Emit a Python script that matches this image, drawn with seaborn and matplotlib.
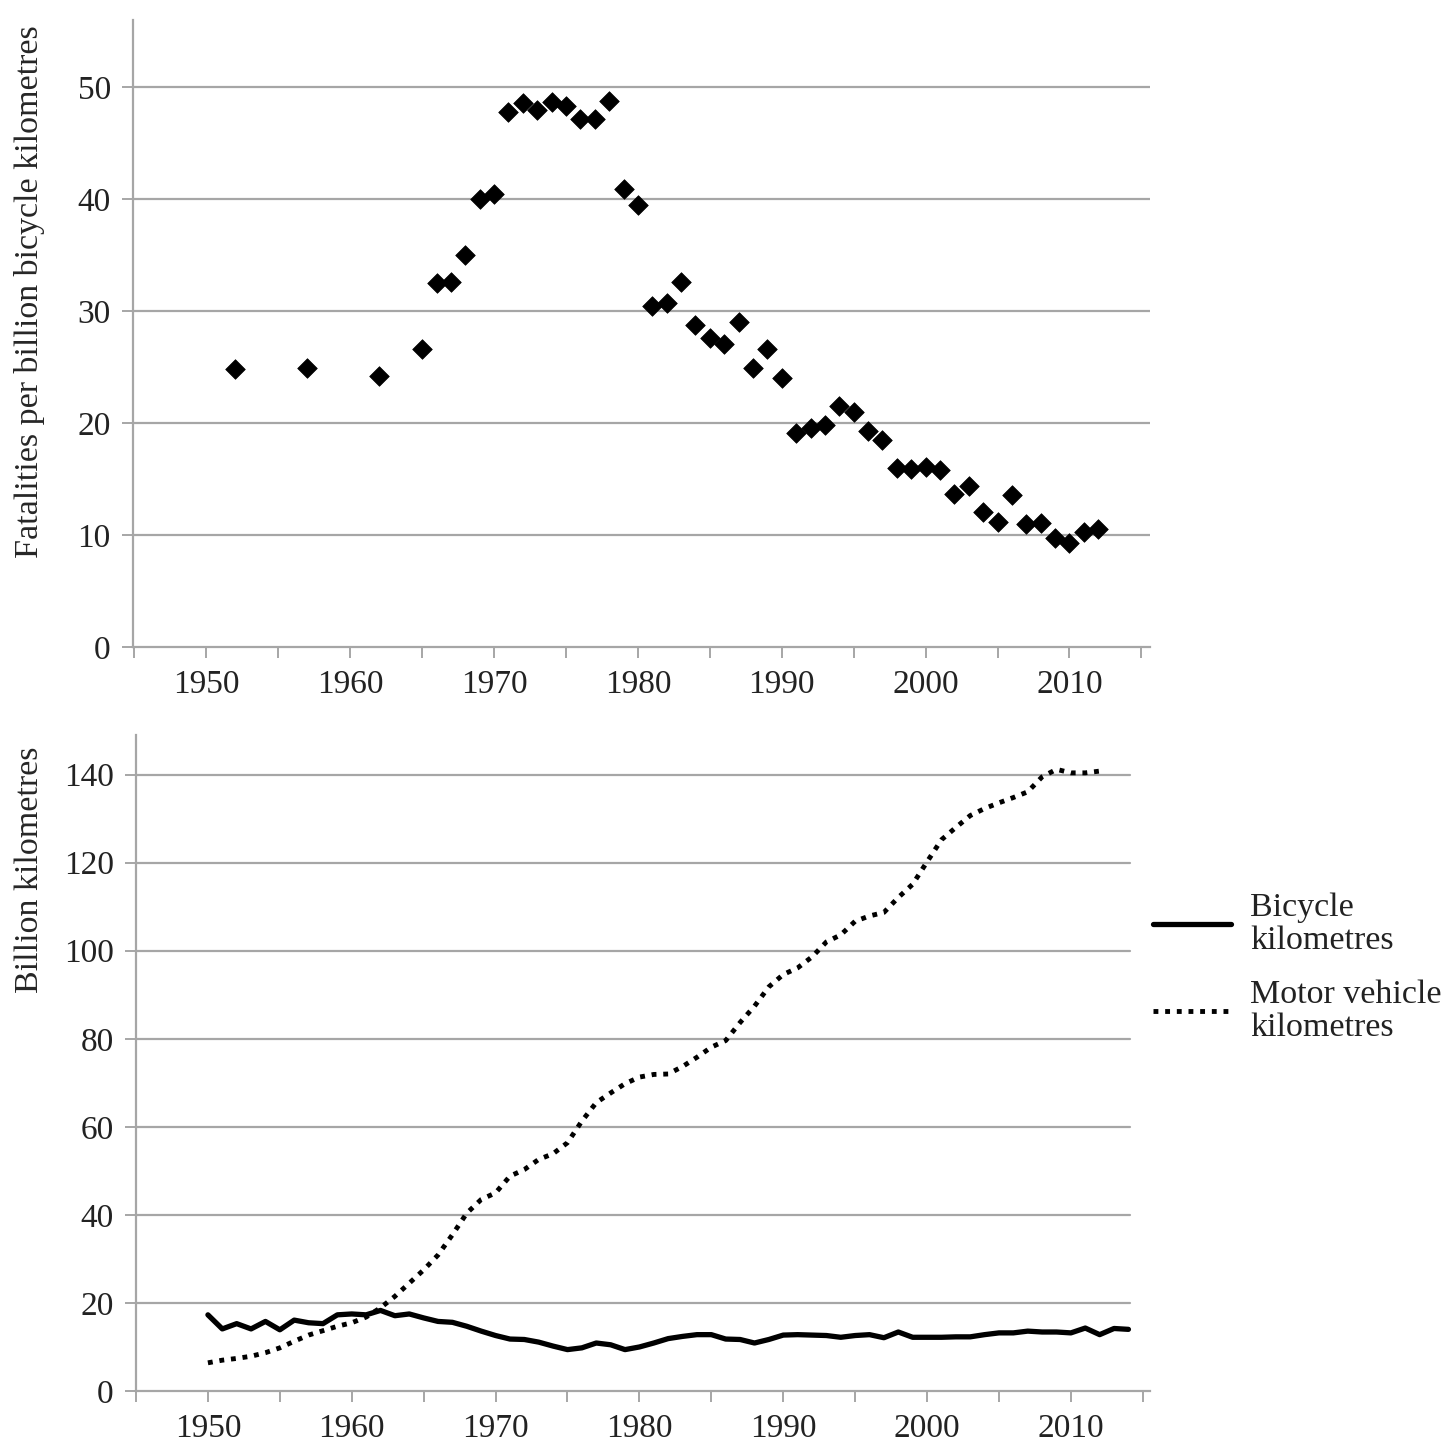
import matplotlib
matplotlib.use("Agg")
import matplotlib.pyplot as plt
import seaborn as sns
import pandas as pd

# fatalities per billion bicycle km (top panel)
fat_years = [1952, 1957, 1962, 1965, 1966, 1967, 1968, 1969,
             1970, 1971, 1972, 1973, 1974, 1975, 1976, 1977, 1978, 1979,
             1980, 1981, 1982, 1983, 1984, 1985, 1986, 1987, 1988, 1989,
             1990, 1991, 1992, 1993, 1994, 1995, 1996, 1997, 1998, 1999,
             2000, 2001, 2002, 2003, 2004, 2005, 2006, 2007, 2008, 2009,
             2010, 2011, 2012]
fat_values = [24.8, 24.9, 24.2, 26.6, 32.5, 32.6, 35.0, 40.0,
              40.5, 47.8, 48.6, 48.0, 48.7, 48.3, 47.2, 47.2, 48.8, 40.9,
              39.5, 30.5, 30.7, 32.6, 28.8, 27.6, 27.1, 29.0, 24.9, 26.6,
              24.0, 19.1, 19.6, 19.8, 21.5, 21.0, 19.3, 18.5, 16.0, 15.9,
              16.1, 15.8, 13.7, 14.4, 12.1, 11.2, 13.6, 11.0, 11.1, 9.7,
              9.3, 10.3, 10.5]

# billion km travelled (bottom panel)
bike_years = list(range(1950, 2015))
bike_km = [17.3, 14.1, 15.3, 14.1, 15.8, 13.9, 16.1, 15.5, 15.3, 17.3,
           17.5, 17.3, 18.3, 17.1, 17.5, 16.6, 15.8, 15.6, 14.7, 13.6,
           12.6, 11.8, 11.7, 11.1, 10.2, 9.4, 9.8, 10.9, 10.5, 9.4,
           10.0, 10.9, 11.9, 12.4, 12.8, 12.8, 11.8, 11.7, 10.9, 11.7,
           12.7, 12.8, 12.7, 12.6, 12.2, 12.6, 12.8, 12.1, 13.4, 12.2,
           12.2, 12.2, 12.3, 12.3, 12.8, 13.2, 13.2, 13.6, 13.4, 13.4,
           13.2, 14.3, 12.8, 14.2, 14.0]

motor_years = list(range(1950, 2013))
motor_km = [6.4, 7.0, 7.4, 7.9, 8.7, 9.8, 11.3, 12.7, 13.7, 14.7,
            15.5, 16.8, 18.9, 21.5, 24.5, 27.5, 30.9, 35.5, 40.4, 43.5,
            45.0, 48.8, 50.3, 52.6, 53.9, 56.4, 61.3, 65.5, 67.7, 69.8,
            71.3, 71.9, 72.0, 73.7, 75.8, 78.1, 79.6, 83.7, 87.4, 91.8,
            94.6, 96.1, 98.6, 102.0, 103.6, 106.7, 107.9, 108.7, 112.1, 115.1,
            120.2, 125.2, 128.0, 130.7, 132.3, 133.6, 134.8, 136.1, 139.5, 141.2,
            140.4, 140.4, 140.8]

x_ticks = [1950, 1960, 1970, 1980, 1990, 2000, 2010]
fat_yticks = [0, 10, 20, 30, 40, 50]
km_yticks = [0, 20, 40, 60, 80, 100, 120, 140]

sns.set_style("white")
plt.rcParams["font.family"] = ["Liberation Serif", "DejaVu Serif"]
plt.rcParams["text.color"] = "#222222"

GRID = "#a6a6a6"
W, H = 1453, 1447

fig = plt.figure(figsize=(W / 100, H / 100), dpi=100)
ax1 = fig.add_axes([133 / W, 1 - 647 / H, (1150 - 133) / W, (647 - 20) / H])
ax2 = fig.add_axes([136 / W, 1 - 1391 / H, (1150 - 136) / W, (1391 - 735) / H])


def style_axis(ax, yticks):
    for side in ["top", "right"]:
        ax.spines[side].set_visible(False)
    for side in ["left", "bottom"]:
        ax.spines[side].set_color(GRID)
        ax.spines[side].set_linewidth(1.6)
    ax.set_xticks(range(1945, 2016, 5))
    ax.set_xticklabels([str(y) if y in x_ticks else "" for y in range(1945, 2016, 5)])
    ax.set_yticks(yticks)
    ax.tick_params(axis="both", direction="out", length=8, width=1.4,
                   color=GRID, labelsize=24, labelcolor="#222222",
                   bottom=True, left=True)
    ax.tick_params(axis="x", pad=8)
    ax.tick_params(axis="y", pad=8)


# top panel
fat_df = pd.DataFrame({"year": fat_years, "rate": fat_values})
sns.scatterplot(data=fat_df, x="year", y="rate", ax=ax1, marker="D",
                s=100, color="black", edgecolor="black", linewidth=0.5, zorder=3)
ax1.set_xlim(1944.9, 2015.6)
ax1.set_ylim(0, 56)
style_axis(ax1, fat_yticks)
for y in fat_yticks[1:]:
    ax1.axhline(y, color=GRID, lw=1.6, zorder=1)
ax1.set_xlabel("")
ax1.set_ylabel("Fatalities per billion bicycle kilometres", fontsize=24.5)
ax1.yaxis.set_label_coords(-0.087, 0.566)

# bottom panel
bike_df = pd.DataFrame({"year": bike_years, "km": bike_km})
motor_df = pd.DataFrame({"year": motor_years, "km": motor_km})
sns.lineplot(data=bike_df, x="year", y="km", ax=ax2, color="black",
             lw=3.8, label="Bicycle\nkilometres", zorder=3)
sns.lineplot(data=motor_df, x="year", y="km", ax=ax2, color="black",
             lw=3.5, linestyle=(0, (1, 1.4)), label="Motor vehicle\nkilometres",
             zorder=3)
ax2.set_xlim(1945.0, 2015.5)
ax2.set_ylim(0, 149)
style_axis(ax2, km_yticks)
for y in km_yticks[1:]:
    ax2.axhline(y, xmax=0.98, color=GRID, lw=1.6, zorder=1)
ax2.set_xlabel("")
ax2.set_ylabel("Billion kilometres", fontsize=24.5)
ax2.yaxis.set_label_coords(-0.09, 0.794)

leg = ax2.legend(loc="center left", bbox_to_anchor=(1.003, 0.645), frameon=False,
                 fontsize=24.5, handlelength=2.3, handletextpad=0.55,
                 labelspacing=0.7, borderpad=0, borderaxespad=0)
for t in leg.get_texts():
    t.set_linespacing(1.1)

fig.savefig("out.png", dpi=100, facecolor="white")
